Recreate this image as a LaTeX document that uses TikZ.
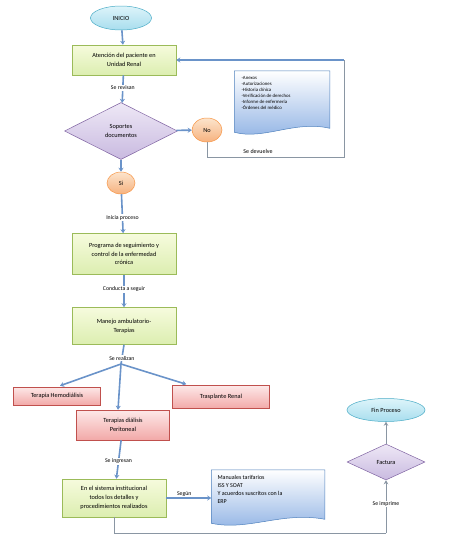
\documentclass[tikz,border=0pt]{standalone}
\usepackage{fontspec}
\setmainfont{Carlito}
\usetikzlibrary{shapes.geometric,arrows.meta,calc}
\definecolor{arrowblue}{HTML}{6A93C9}
\definecolor{loopgray}{HTML}{8A96A3}
\definecolor{greenbd}{HTML}{9BBB59}
\definecolor{greentop}{HTML}{F6FBDD}
\definecolor{greenbot}{HTML}{DCEEB0}
\definecolor{cyanbd}{HTML}{4BACC6}
\definecolor{cyantop}{HTML}{DDF4FA}
\definecolor{cyanbot}{HTML}{A8DDEE}
\definecolor{purpbd}{HTML}{8064A2}
\definecolor{purptop}{HTML}{EEE8F6}
\definecolor{purpbot}{HTML}{C9BAE0}
\definecolor{orgbd}{HTML}{F79646}
\definecolor{orgtop}{HTML}{FCE4CC}
\definecolor{orgbot}{HTML}{F6B27F}
\definecolor{redbd}{HTML}{C0504D}
\definecolor{redtop}{HTML}{FDE8E8}
\definecolor{redbot}{HTML}{F2A9A8}
\definecolor{docbd}{HTML}{4F81BD}
\definecolor{doctop}{HTML}{FFFFFF}
\definecolor{docbot}{HTML}{8FB2E4}
\begin{document}
\begin{tikzpicture}[x=1pt,y=-1pt,
  base/.style={font=\fontsize{6.3}{8.8}\selectfont, align=center, inner sep=1pt, line width=0.5pt},
  greenbox/.style={base, rectangle, draw=greenbd, top color=greentop, bottom color=greenbot, minimum width=104pt},
  redbox/.style={base, rectangle, draw=redbd, top color=redtop, bottom color=redbot},
  startend/.style={base, ellipse, draw=cyanbd, top color=cyantop, bottom color=cyanbot, inner sep=0pt},
  decision/.style={base, diamond, draw=purpbd, top color=purptop, bottom color=purpbot, aspect=2, inner sep=0pt},
  yesno/.style={base, ellipse, draw=orgbd, top color=orgtop, bottom color=orgbot, inner sep=0pt},
  docarea/.style={base, rectangle, align=left, inner sep=3pt},
  docshape/.style={draw=docbd, line width=0.5pt, top color=doctop, bottom color=docbot},
  lbl/.style={font=\fontsize{5.8}{7}\selectfont, fill=white, inner sep=1pt},
  flow/.style={draw=arrowblue, line width=1.6pt, -{Stealth[length=4pt,width=5pt]}},
  flowline/.style={draw=arrowblue, line width=1.6pt},
  loopline/.style={draw=loopgray, line width=0.7pt}
]
\useasboundingbox (0,0) rectangle (474,549);

% nodes
\node[startend, minimum width=61pt, minimum height=24pt] (ini) at (121,18) {INICIO};
\node[greenbox, minimum height=30pt] (aten) at (124,60) {Atención del paciente en\\Unidad Renal};
\node[decision, minimum width=113pt, minimum height=57pt] (sop) at (121,131) {Soportes\\documentos};
\node[yesno, minimum width=30pt, minimum height=24pt] (no) at (207,130) {No};
\node[yesno, minimum width=28pt, minimum height=22pt] (si) at (121,183) {Si};
\node[greenbox, minimum height=41pt] (prog) at (124,254) {Programa de seguimiento y\\control de la enfermedad\\crónica};
\node[greenbox, minimum height=37pt] (man) at (124,326) {Manejo ambulatorio-\\Terapias};
\node[redbox, minimum width=87pt, minimum height=18pt] (hemo) at (57,396) {Terapia Hemodiálisis};
\node[redbox, minimum width=97pt, minimum height=23pt] (tras) at (221,397) {Trasplante Renal};
\node[redbox, minimum width=93pt, minimum height=30pt] (peri) at (123,425) {Terapias diálisis\\Peritoneal};
\node[greenbox, minimum height=38pt] (sist) at (114,498) {En el sistema institucional\\todos los detalles y\\procedimientos realizados};
\node[decision, minimum width=78pt, minimum height=36pt] (fac) at (386,462) {Factura};
\node[startend, minimum width=78pt, minimum height=23pt] (fin) at (386,410) {Fin Proceso};

% document shapes
\node[docarea, minimum width=95pt, minimum height=64pt] (doca) at (282,103) {};
\path[docshape] (doca.north west) -- (doca.north east) -- ($(doca.south east)+(0,-7)$)
  .. controls ($(doca.south)+(12,-15)$) and ($(doca.south)+(-18,5)$) .. ($(doca.south west)+(0,-3)$) -- cycle;
\node[docarea, anchor=north west, font=\fontsize{4.8}{6}\selectfont] at ($(doca.north west)+(4,2)$)
  {-Anexos\\-Autorizaciones\\-Historia clínica\\-Verificación de derechos\\-Informe de enfermería\\-Órdenes del médico};

\node[docarea, minimum width=113pt, minimum height=56pt] (docb) at (268,498) {};
\path[docshape] (docb.north west) -- (docb.north east) -- ($(docb.south east)+(0,-7)$)
  .. controls ($(docb.south)+(14,-15)$) and ($(docb.south)+(-20,5)$) .. ($(docb.south west)+(0,-3)$) -- cycle;
\node[docarea, anchor=north west, font=\fontsize{6}{8}\selectfont] at ($(docb.north west)+(3,2)$)
  {Manuales tarifarios\\ISS Y SOAT\\Y acuerdos suscritos con la\\ERP};

% coordinates for loops and fan
\coordinate (lpa) at (344,157);
\coordinate (lpb) at (344,60);
\coordinate (fan) at (121,364);
\coordinate (lpc) at (114,533);
\coordinate (lpd) at (386,533);

% connectors
\draw[flow] (ini) -- (aten);
\draw[flow] (aten) -- node[lbl, pos=0.45] {Se revisan} (sop);
\draw[flow] (sop) -- (no);
\draw[loopline] (no.south) |- (lpa) -- (lpb);
\node[font=\fontsize{6}{7}\selectfont] at (258,151) {Se devuelve};
\draw[flowline, line width=1.4pt, -{Stealth[length=4pt,width=5pt]}] (lpb) -- (aten.east);
\draw[flow] (sop) -- (si);
\draw[flow] (si) -- node[lbl, pos=0.6] {Inicia proceso} (prog);
\draw[flow] (prog) -- node[lbl, pos=0.45] {Conducta a seguir} (man);
\draw[flowline] (man.south) -- node[lbl, pos=0.7] {Se realizan} (fan);
\draw[flow] (fan) -- ($(hemo.north)+(3,-1)$);
\draw[flow] (fan) -- ($(tras.north west)+(14,-1)$);
\draw[flow] (fan) -- ($(peri.north)+(-5,0)$);
\draw[flow] (peri) -- node[lbl, pos=0.55] {Se ingresan} (sist);
\draw[flow] (sist.east) -- node[lbl, above, fill=none, pos=0.4] {Según} (docb.west);
\draw[loopline] (sist.south) -- (lpc) -- (lpd);
\draw[loopline, line width=1pt, -{Stealth[length=4pt,width=4.5pt]}] (lpd) -- node[lbl, pos=0.55] {Se imprime} (fac.south);
\draw[loopline, line width=1pt, -{Stealth[length=4pt,width=4.5pt]}] (fac) -- (fin);
\end{tikzpicture}
\end{document}
